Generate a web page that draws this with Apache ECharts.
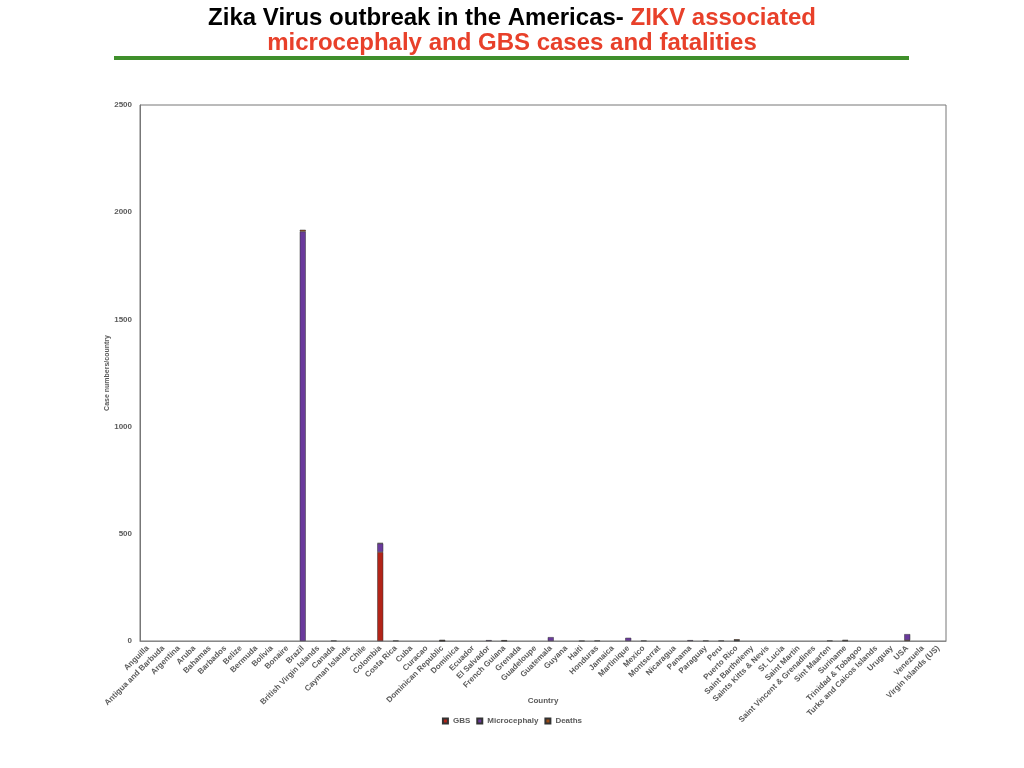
<!DOCTYPE html>
<html lang="en">
<head>
    <meta charset="UTF-8">
    <title>Zika Virus outbreak in the Americas</title>
    <script type="text/javascript" src="https://cdn.jsdelivr.net/npm/echarts@6/dist/echarts.min.js"></script>
    <style>
        html, body { margin: 0; padding: 0; background: #fff; }
    </style>
</head>
<body>
<div id="main" style="width: 1024px;height:768px;"></div>
<script>
    var countries = ['Anguilla', 'Antigua and Barbuda', 'Argentina', 'Aruba', 'Bahamas', 'Barbados', 'Belize',
        'Bermuda', 'Bolivia', 'Bonaire', 'Brazil', 'British Virgin Islands', 'Canada', 'Cayman Islands', 'Chile',
        'Colombia', 'Costa Rica', 'Cuba', 'Curacao', 'Dominican Republic', 'Dominica', 'Ecuador', 'El Salvador',
        'French Guiana', 'Grenada', 'Guadeloupe', 'Guatemala', 'Guyana', 'Haiti', 'Honduras', 'Jamaica',
        'Martinique', 'Mexico', 'Montserrat', 'Nicaragua', 'Panama', 'Paraguay', 'Peru', 'Puerto Rico',
        'Saint Barthelemy', 'Saints Kitts & Nevis', 'St. Lucia', 'Saint Martin', 'Saint Vincent & Grenadines',
        'Sint Maarten', 'Suriname', 'Trinidad & Tobagoo', 'Turks and Caicos Islands', 'Uruguay', 'USA',
        'Venezuela', 'Virgin Islands (US)'];

    // values, one per country
    var gbs = [0, 0, 0, 0, 0, 0, 0, 0, 0, 0, 0, 0, 0, 0, 0,
        415, 0, 0, 0, 1, 0, 0, 0, 0, 0, 0, 0, 0, 0, 0, 0,
        0, 0, 0, 0, 0, 0, 0, 2, 0, 0, 0, 0, 0, 0, 0, 0, 0, 0, 4, 0, 0];
    var microcephaly = [0, 0, 0, 0, 0, 0, 0, 0, 0, 0, 1910, 0, 2, 0, 0,
        40, 2, 0, 0, 1, 0, 0, 4, 1, 0, 0, 18, 0, 1, 2, 0,
        15, 2, 0, 0, 4, 2, 2, 2, 0, 0, 0, 0, 0, 2, 2, 0, 0, 0, 28, 0, 0];
    var deaths = [0, 0, 0, 0, 0, 0, 0, 0, 0, 0, 8, 0, 0, 0, 0,
        2, 0, 0, 0, 3, 0, 0, 0, 3, 0, 0, 0, 0, 0, 0, 0,
        0, 0, 0, 0, 0, 0, 0, 4, 0, 0, 0, 0, 0, 0, 3, 0, 0, 0, 0, 0, 0];

    var yTicks = [0, 500, 1000, 1500, 2000, 2500];

    var labelFont = {
        color: '#5a5a5a',
        fontSize: 8,
        fontWeight: 'bold',
        fontFamily: 'Liberation Sans, Arial, sans-serif'
    };

    // zero counts draw no bar at all
    function noZero(arr) {
        return arr.map(function (v) { return v === 0 ? '-' : v; });
    }

    function barSeries(name, values, color) {
        return {
            name: name,
            type: 'bar',
            stack: 'total',
            barWidth: 6,
            itemStyle: {color: color, borderColor: '#333', borderWidth: 0.5},
            data: noZero(values)
        };
    }

    var myChart = echarts.init(document.getElementById('main'));
    var option = {
        animation: false,
        title: {
            left: 'center',
            top: 1,
            text: '{a|Zika Virus outbreak in the Americas- }{b|ZIKV associated}\n{b|microcephaly and GBS cases and fatalities}',
            textStyle: {
                fontFamily: 'Liberation Sans, Arial, sans-serif',
                fontSize: 24,
                fontWeight: 'bold',
                lineHeight: 25,
                rich: {
                    a: {color: '#000', fontSize: 24, fontWeight: 'bold', fontFamily: 'Liberation Sans', lineHeight: 25},
                    b: {color: '#e8402a', fontSize: 24, fontWeight: 'bold', fontFamily: 'Liberation Sans', lineHeight: 25}
                }
            }
        },
        graphic: [{
            type: 'rect',
            shape: {x: 114, y: 56, width: 795, height: 4},
            style: {fill: '#3f8f2b'}
        }],
        legend: {
            top: 712,
            left: 'center',
            itemWidth: 5,
            itemHeight: 5,
            itemGap: 6,
            icon: 'rect',
            textStyle: labelFont,
            data: ['GBS', 'Microcephaly', 'Deaths']
        },
        grid: {
            left: 140,
            right: 78,
            top: 105,
            bottom: 127,
            show: true,
            borderColor: '#777',
            borderWidth: 1
        },
        xAxis: {
            type: 'category',
            data: countries,
            name: 'Country',
            nameLocation: 'middle',
            nameGap: 56,
            nameMoveOverlap: false,
            nameTextStyle: labelFont,
            axisLine: {lineStyle: {color: '#888'}},
            axisTick: {show: false},
            axisLabel: Object.assign({interval: 0, rotate: 45, margin: 6}, labelFont)
        },
        yAxis: {
            type: 'value',
            min: yTicks[0],
            max: yTicks[yTicks.length - 1],
            interval: 500,
            name: 'Case numbers/country',
            nameLocation: 'middle',
            nameGap: 29,
            nameMoveOverlap: false,
            nameTextStyle: {color: '#5a5a5a', fontSize: 7, fontWeight: 'bold', fontFamily: 'Liberation Sans'},
            splitLine: {show: false},
            axisLine: {show: true, lineStyle: {color: '#777'}},
            axisTick: {show: false},
            axisLabel: Object.assign({
                margin: 8,
                formatter: function (v) { return String(v); }
            }, labelFont)
        },
        series: [
            barSeries('GBS', gbs, '#b22418'),
            barSeries('Microcephaly', microcephaly, '#6a3a9c'),
            barSeries('Deaths', deaths, '#9a4a16')
        ]
    };
    myChart.setOption(option);
</script>
</body>
</html>
